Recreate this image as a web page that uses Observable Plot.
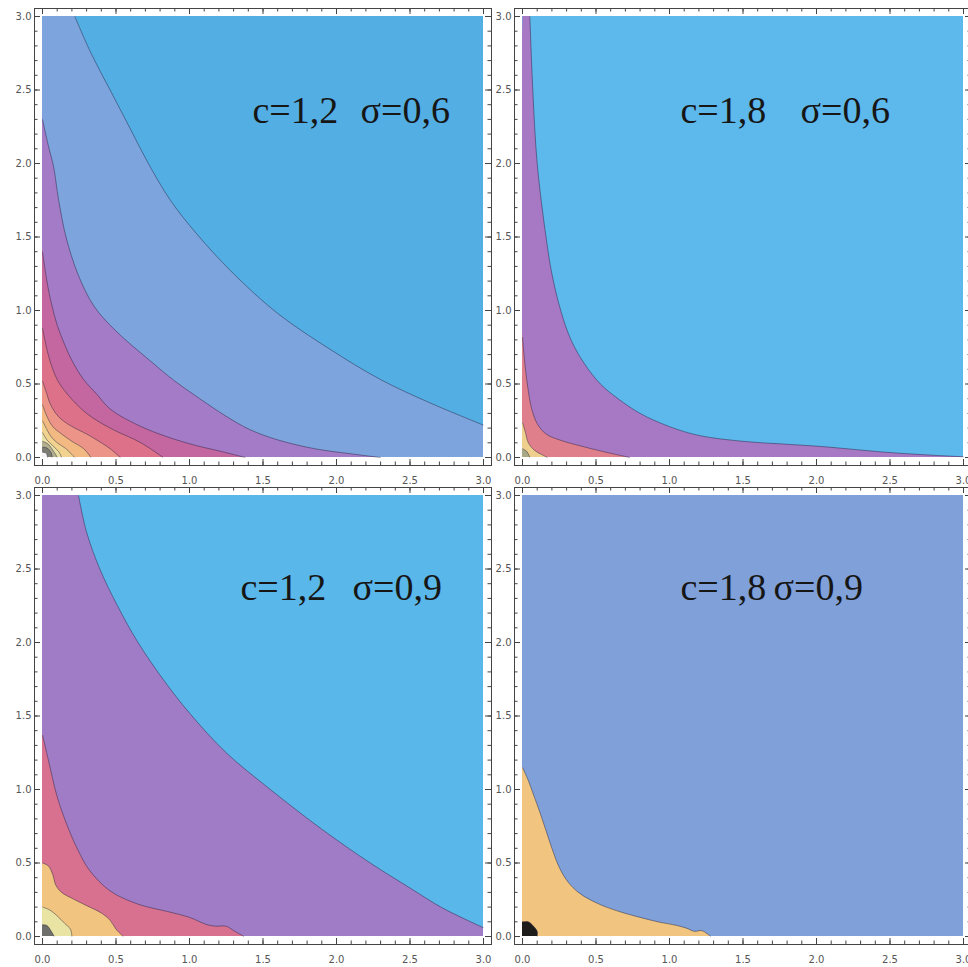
<!DOCTYPE html>
<html>
<head>
<meta charset="utf-8">
<script src="https://cdn.jsdelivr.net/npm/d3@7"></script>
<script src="https://cdn.jsdelivr.net/npm/@observablehq/plot@0.6"></script>
<style>
  body { margin: 0; background: #fff; }
  #grid { position: relative; width: 968px; height: 967px; overflow: hidden; background: #fff; }
  #grid > div { position: absolute; width: 503px; height: 489px; }
  #grid svg { max-width: none !important; }
</style>
</head>
<body>
<div id="grid"></div>
<script>
// Axis ticks shared by the four panels
const majorTicks = [0, 0.5, 1, 1.5, 2, 2.5, 3];
const tickLabels = ["0.0", "0.5", "1.0", "1.5", "2.0", "2.5", "3.0"];

// Panel captions
const cLabels = ["c=1,2", "c=1,8", "c=1,2", "c=1,8"];
const sigmaLabels = ["σ=0,6", "σ=0,6", "σ=0,9", "σ=0,9"];

// Contour lines, outermost first, as [x, y] points (from the left/top edge to the bottom/right edge)
const panel1Lines = [
  [[0.22,3.0],[0.33,2.75],[0.46,2.5],[0.59,2.25],[0.72,2.0],[0.87,1.75],[1.05,1.52],[1.3,1.25],[1.6,0.98],[1.95,0.74],[2.3,0.53],[2.64,0.37],[3.0,0.22]],
  [[0,2.3],[0.04,2.12],[0.075,1.98],[0.11,1.75],[0.16,1.5],[0.24,1.25],[0.35,1.03],[0.5,0.86],[0.73,0.66],[0.9,0.52],[1.07,0.4],[1.25,0.28],[1.41,0.19],[1.6,0.12],[1.85,0.06],[2.1,0.025],[2.3,0]],
  [[0,1.4],[0.03,1.2],[0.06,1.05],[0.1,0.9],[0.15,0.77],[0.2,0.66],[0.28,0.53],[0.37,0.43],[0.46,0.33],[0.65,0.22],[0.85,0.14],[1.05,0.08],[1.2,0.045],[1.38,0]],
  [[0,0.88],[0.02,0.78],[0.05,0.66],[0.1,0.53],[0.17,0.43],[0.3,0.3],[0.46,0.2],[0.67,0.1],[0.82,0]],
  [[0,0.52],[0.03,0.43],[0.05,0.37],[0.09,0.3],[0.14,0.25],[0.22,0.2],[0.3,0.16],[0.4,0.1],[0.46,0.06],[0.53,0]],
  [[0,0.36],[0.03,0.28],[0.07,0.21],[0.13,0.16],[0.2,0.11],[0.28,0.06],[0.33,0]],
  [[0,0.25],[0.03,0.19],[0.06,0.14],[0.1,0.1],[0.16,0.06],[0.2,0.02],[0.22,0]],
  [[0,0.17],[0.03,0.12],[0.07,0.08],[0.11,0.04],[0.13,0]],
  [[0,0.11],[0.04,0.09],[0.07,0.05],[0.09,0.02],[0.1,0]],
  [[0,0.07],[0.03,0.065],[0.06,0.03],[0.065,0]],
  [[0,0.035],[0.025,0.03],[0.035,0]]
];
const panel1Colors = ["#53aee4", "#7da4dc", "#a47bc6", "#c4669f", "#dc7189", "#ec9487", "#f2b982", "#f1d38f", "#e9e1a6", "#b4b08f", "#7c7c72", "#f4f4f4"];

const panel2Lines = [
  [[0.05,3.0],[0.07,2.5],[0.1,2.0],[0.16,1.5],[0.2,1.25],[0.26,1.0],[0.33,0.8],[0.42,0.64],[0.53,0.5],[0.65,0.4],[0.8,0.3],[1.0,0.21],[1.2,0.15],[1.5,0.11],[1.8,0.09],[2.03,0.075],[2.48,0.035],[2.8,0.015],[3.0,0.005]],
  [[0,0.82],[0.01,0.7],[0.02,0.6],[0.04,0.45],[0.06,0.34],[0.1,0.23],[0.16,0.16],[0.25,0.12],[0.39,0.08],[0.55,0.04],[0.73,0]],
  [[0,0.24],[0.02,0.17],[0.04,0.1],[0.08,0.05],[0.13,0.02],[0.17,0]],
  [[0,0.06],[0.03,0.04],[0.05,0]]
];
const panel2Colors = ["#5db8ec", "#a778c3", "#e07f8c", "#efcf8e", "#a9a886"];

const panel3Lines = [
  [[0.245,3.0],[0.3,2.75],[0.39,2.5],[0.51,2.25],[0.65,2.0],[0.82,1.75],[1.0,1.52],[1.25,1.25],[1.55,1.0],[1.9,0.73],[2.23,0.5],[2.5,0.33],[2.71,0.2],[2.87,0.12],[3.0,0.06]],
  [[0,1.37],[0.04,1.2],[0.1,0.95],[0.17,0.75],[0.24,0.59],[0.32,0.45],[0.46,0.31],[0.65,0.22],[0.85,0.17],[1.0,0.13],[1.12,0.08],[1.18,0.07],[1.25,0.07],[1.3,0.04],[1.37,0]],
  [[0,0.5],[0.04,0.48],[0.07,0.42],[0.09,0.35],[0.13,0.3],[0.2,0.26],[0.3,0.21],[0.4,0.16],[0.46,0.11],[0.5,0.05],[0.55,0]],
  [[0,0.2],[0.05,0.18],[0.1,0.14],[0.15,0.09],[0.19,0.05],[0.2,0]],
  [[0,0.08],[0.03,0.075],[0.06,0.035],[0.08,0]]
];
const panel3Colors = ["#5ab7ea", "#a07cc6", "#d8718f", "#f1c480", "#e9e4a3", "#6e6e6a"];

const panel4Lines = [
  [[0,1.15],[0.04,1.06],[0.08,0.95],[0.12,0.84],[0.16,0.72],[0.2,0.6],[0.25,0.47],[0.31,0.37],[0.38,0.3],[0.46,0.25],[0.57,0.2],[0.69,0.16],[0.8,0.13],[0.92,0.1],[1.05,0.075],[1.12,0.055],[1.17,0.035],[1.22,0.04],[1.28,0]],
  [[0,0.1],[0.04,0.1],[0.07,0.075],[0.1,0.035],[0.1,0]]
];
const panel4Colors = ["#7fa0d9", "#f1c57f", "#1e1b1b"];

const panelLines = [panel1Lines, panel2Lines, panel3Lines, panel4Lines];
const panelColors = [panel1Colors, panel2Colors, panel3Colors, panel4Colors];

// Frame geometry: the 0..3 square sits inside the frame with a small padding
const FW = 457, FH = 457, PAD = 8 / 147, XMAX = 3, YMAX = 3;
const xDomain = [-PAD, XMAX + PAD], yDomain = [-PAD, YMAX + PAD];
const minorTicks = d3.range(0, 31).map(i => i / 10);

const layout = [
  {left: 0, top: 0, cDx: 218, sDx: 326, dy: 114},
  {left: 480, top: 0, cDx: 166, sDx: 286, dy: 114},
  {left: 0, top: 479, cDx: 206, sDx: 318, dy: 112},
  {left: 480, top: 479, cDx: 166, sDx: 259, dy: 112}
];

// Close a contour line into the region it cuts off around the origin.
// Each end is extended outward along its last chord so the smoothed fill
// leaves the square along the same direction as the drawn contour.
function region(line) {
  const n = line.length;
  const first = line[0], last = line[n - 1];
  const headOut = [2 * first[0] - line[1][0], 2 * first[1] - line[1][1]];
  const tailOut = [2 * last[0] - line[n - 2][0], 2 * last[1] - line[n - 2][1]];
  const poly = [[0, 0]];
  if (first[0] > 0) poly.push([0, YMAX]);
  poly.push(headOut, ...line, tailOut);
  if (last[1] > 0) poly.push([XMAX, 0]);
  poly.push([0, 0]);
  return poly;
}

// White strips over the padding between the square and the frame
const masks = [
  {x1: xDomain[0], x2: 0, y1: yDomain[0], y2: yDomain[1]},
  {x1: XMAX, x2: xDomain[1], y1: yDomain[0], y2: yDomain[1]},
  {x1: xDomain[0], x2: xDomain[1], y1: yDomain[0], y2: 0},
  {x1: xDomain[0], x2: xDomain[1], y1: YMAX, y2: yDomain[1]}
];

const grid = document.getElementById("grid");
const ink = "#444";
const label = d => tickLabels[majorTicks.indexOf(d)];

panelLines.forEach((lines, k) => {
  const colors = panelColors[k], L = layout[k];
  const xy = {x: d => d[0], y: d => d[1]};
  const box = {x1: "x1", x2: "x2", y1: "y1", y2: "y2"};
  const marks = [
    Plot.rect([{x1: 0, x2: XMAX, y1: 0, y2: YMAX}], {...box, fill: colors[0]}),
    ...lines.map((ln, i) => Plot.line(region(ln), {...xy, fill: colors[i + 1], stroke: "none", curve: "catmull-rom", clip: true})),
    Plot.rect(masks, {...box, fill: "white"}),
    ...lines.map(ln => Plot.line(ln, {...xy, stroke: "#1c1c38", strokeOpacity: 0.45, strokeWidth: 1, strokeLinecap: "butt", curve: "catmull-rom", clip: true})),
    Plot.frame({stroke: ink}),
    // inward ticks on all four sides
    Plot.tickX(majorTicks, {x: d => d, insetBottom: FH - 6, stroke: ink}),
    Plot.tickX(majorTicks, {x: d => d, insetTop: FH - 6, stroke: ink}),
    Plot.tickX(minorTicks, {x: d => d, insetBottom: FH - 3.5, stroke: ink}),
    Plot.tickX(minorTicks, {x: d => d, insetTop: FH - 3.5, stroke: ink}),
    Plot.tickY(majorTicks, {y: d => d, insetRight: FW - 6, stroke: ink}),
    Plot.tickY(majorTicks, {y: d => d, insetLeft: FW - 6, stroke: ink}),
    Plot.tickY(minorTicks, {y: d => d, insetRight: FW - 3.5, stroke: ink}),
    Plot.tickY(minorTicks, {y: d => d, insetLeft: FW - 3.5, stroke: ink}),
    Plot.axisX(majorTicks, {anchor: "bottom", tickSize: 0, tickPadding: 11, tickFormat: label, color: "#555"}),
    Plot.axisY(majorTicks, {anchor: "left", tickSize: 0, tickPadding: 3, tickFormat: label, color: "#555"}),
    Plot.text([cLabels[k]], {text: d => d, frameAnchor: "top-left", dx: L.cDx, dy: L.dy, textAnchor: "start", lineAnchor: "bottom", fontSize: 38, fontFamily: "Liberation Serif", fill: "#161616"}),
    Plot.text([sigmaLabels[k]], {text: d => d, frameAnchor: "top-left", dx: L.sDx, dy: L.dy, textAnchor: "start", lineAnchor: "bottom", fontSize: 38, fontFamily: "Liberation Serif", fill: "#161616"})
  ];
  const chart = Plot.plot({
    width: 503, height: 489,
    marginLeft: 34, marginTop: 8, marginRight: 12, marginBottom: 24,
    x: {domain: xDomain},
    y: {domain: yDomain},
    style: {background: "transparent", overflow: "visible", fontFamily: "DejaVu Sans", fontSize: "10px", maxWidth: "none"},
    marks
  });
  const holder = document.createElement("div");
  holder.style.left = L.left + "px";
  holder.style.top = L.top + "px";
  holder.appendChild(chart);
  grid.appendChild(holder);
});
</script>
</body>
</html>
